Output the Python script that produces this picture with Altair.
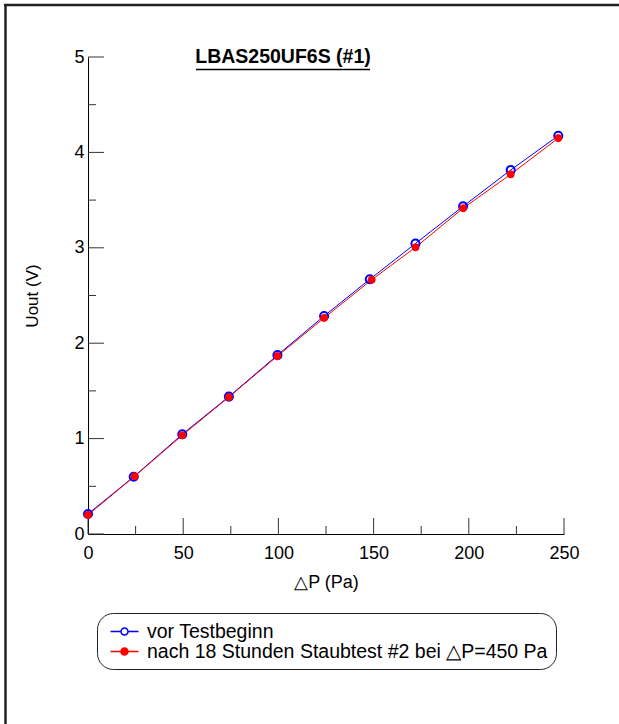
import altair as alt
import pandas as pd

# ---- data ----
series_names = ["vor Testbeginn", "nach 18 Stunden Staubtest #2 bei \u25b3P=450 Pa"]
dp_blue = [0, 24, 49.5, 74, 99.5, 124, 148, 172, 197, 222, 247]
u_blue = [0.21, 0.60, 1.045, 1.44, 1.875, 2.285, 2.67, 3.045, 3.435, 3.815, 4.175]
dp_red = [0, 24.5, 49.5, 74, 99.5, 124, 149, 172, 197, 222, 247]
u_red = [0.20, 0.605, 1.035, 1.435, 1.865, 2.265, 2.665, 3.005, 3.415, 3.77, 4.15]

x_major = [0, 50, 100, 150, 200, 250]
x_minor = [25, 75, 125, 175, 225]
y_major = [0, 1, 2, 3, 4, 5]
y_minor = [0.5, 1.5, 2.5, 3.5, 4.5]

title_text = "LBAS250UF6S (#1)"
x_title = "\u25b3P (Pa)"
y_title = "Uout (V)"

W, H = 476, 477
FONT = "Liberation Sans"

df = pd.DataFrame({
    "dp": dp_blue + dp_red,
    "u": u_blue + u_red,
    "series": [series_names[0]] * len(dp_blue) + [series_names[1]] * len(dp_red),
})

xscale = alt.Scale(domain=[0, 250], nice=False, zero=False)
yscale = alt.Scale(domain=[0, 5], nice=False, zero=False)

x_enc = alt.X("dp:Q", scale=xscale, title=x_title,
              axis=alt.Axis(values=x_major, ticks=False, grid=False, labelPadding=10,
                            labelFlush=False, labelOverlap=False,
                            domainColor="black", labelFontSize=18, titleFontSize=18,
                            titlePadding=11, labelFont=FONT, titleFont=FONT,
                            labelColor="black", titleColor="black", titleFontWeight="normal",
                            format="d"))
y_enc = alt.Y("u:Q", scale=yscale, title=y_title,
              axis=alt.Axis(values=y_major, ticks=False, grid=False, labelPadding=4,
                            labelFlush=False, labelOverlap=False,
                            domainColor="black", labelFontSize=18, titleFontSize=17,
                            titlePadding=32, labelFont=FONT, titleFont=FONT,
                            labelColor="black", titleColor="black", titleFontWeight="normal",
                            format="d"))

legend_path = ("M-1.47,0H-0.37M0.37,0H1.47"
               "M-0.37,0A0.37,0.37,0,1,0,0.37,0A0.37,0.37,0,1,0,-0.37,0Z")
legend = alt.Legend(orient="none", legendX=9, legendY=556, title=None,
                    symbolType=legend_path, symbolSize=361, symbolStrokeWidth=1.5,
                    symbolOffset=9, labelOffset=12, labelFont=FONT, labelFontSize=19.5,
                    labelColor="black", labelLimit=800, strokeColor="#222222",
                    cornerRadius=16, padding=8, fillColor="white", rowPadding=0)

stroke_scale = alt.Scale(domain=series_names, range=["blue", "red"])
fill_scale = alt.Scale(domain=series_names, range=["transparent", "red"])

line_blue = alt.Chart(df).transform_filter(alt.datum.series == series_names[0]).mark_line(
    strokeWidth=1, color="blue").encode(x=x_enc, y=y_enc)
line_red = alt.Chart(df).transform_filter(alt.datum.series == series_names[1]).mark_line(
    strokeWidth=1, color="red").encode(x=alt.X("dp:Q"), y=alt.Y("u:Q"))

pts_blue = alt.Chart(df).transform_filter(
    alt.datum.series == series_names[0]
).mark_point(shape="circle", opacity=1, size=66, strokeWidth=2).encode(
    x=alt.X("dp:Q"), y=alt.Y("u:Q"),
    stroke=alt.Stroke("series:N", scale=stroke_scale, legend=legend),
    fill=alt.Fill("series:N", scale=fill_scale, legend=legend),
)
pts_red = alt.Chart(df).transform_filter(
    alt.datum.series == series_names[1]
).mark_point(shape="circle", opacity=1, size=50, strokeWidth=1).encode(
    x=alt.X("dp:Q"), y=alt.Y("u:Q"),
    stroke=alt.Stroke("series:N", scale=stroke_scale, legend=legend),
    fill=alt.Fill("series:N", scale=fill_scale, legend=legend),
)

xt_major = alt.Chart(pd.DataFrame({"dp": x_major})).mark_rule(color="#333333", strokeWidth=1).encode(
    x=alt.X("dp:Q"), y=alt.value(H), y2=alt.value(H - 16))
xt_minor = alt.Chart(pd.DataFrame({"dp": x_minor})).mark_rule(color="#333333", strokeWidth=1).encode(
    x=alt.X("dp:Q"), y=alt.value(H), y2=alt.value(H - 8))
yt_major = alt.Chart(pd.DataFrame({"u": y_major})).mark_rule(color="#333333", strokeWidth=1).encode(
    y=alt.Y("u:Q"), x=alt.value(0), x2=alt.value(16))
yt_minor = alt.Chart(pd.DataFrame({"u": y_minor})).mark_rule(color="#333333", strokeWidth=1).encode(
    y=alt.Y("u:Q"), x=alt.value(0), x2=alt.value(8))

one = pd.DataFrame({"t": [title_text]})
title = alt.Chart(one).mark_text(font=FONT, fontSize=19.5, fontWeight="bold",
                                 color="black", align="center", baseline="middle").encode(
    x=alt.value(195), y=alt.value(0), text="t:N")
underline = alt.Chart(one).mark_rule(color="black", strokeWidth=1.5).encode(
    x=alt.value(108), x2=alt.value(282), y=alt.value(12.5))

frame_left = alt.Chart(one).mark_rule(color="#222222", strokeWidth=2.5).encode(
    x=alt.value(-82.5), y=alt.value(-53), y2=alt.value(680))
frame_top = alt.Chart(one).mark_rule(color="#222222", strokeWidth=2.5).encode(
    y=alt.value(-52), x=alt.value(-84), x2=alt.value(540))

chart = alt.layer(
    frame_left, frame_top, xt_major, xt_minor, yt_major, yt_minor,
    line_blue, line_red, pts_blue, pts_red, title, underline
).properties(
    width=W, height=H,
    padding={"left": 88, "top": 57, "right": 55, "bottom": 190},
    autosize=alt.AutoSizeParams(type="none"),
    background="white",
).configure_view(strokeWidth=0, stroke="transparent")

chart.save("out.html", embed_options={"renderer": "svg", "actions": False})
